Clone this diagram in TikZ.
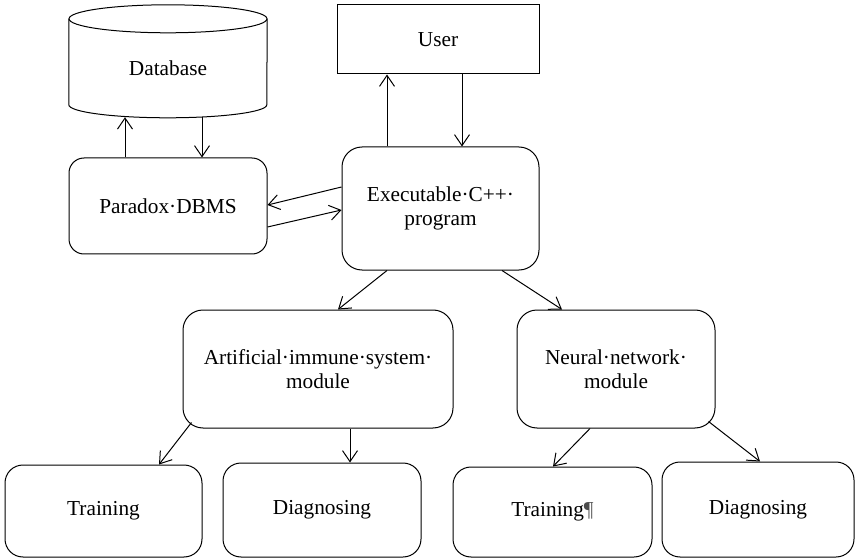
\documentclass[tikz,border=0pt]{standalone}
\usepackage{fontspec}
\setmainfont{Liberation Serif}
\usetikzlibrary{arrows.meta}
\begin{document}
\begin{tikzpicture}[x=1pt,y=-1pt,
  every node/.style={font=\fontsize{21.3}{24}\selectfont, align=center, inner sep=0pt},
  outline/.style={draw, line width=1pt},
  roundbox/.style={outline, rounded corners=#1},
  roundbox/.default=18pt,
  dims/.style 2 args={minimum width=#1pt, minimum height=#2pt},
  link/.style={line width=1pt, -{Straight Barb[length=11pt,width=15pt,line width=1pt]}}
]
\useasboundingbox (0,0) rectangle (855,559);

% database (the cylinder outline is drawn around this node)
\node[dims={198}{98}] (db) at (168,68) {Database};
\draw[line width=1pt] (db.north west) -- ([yshift=-86pt]db.north west)
  arc[start angle=180, end angle=360, x radius=99pt, y radius=13pt]
  -- (db.north east);
\draw[line width=1pt] (db.north) ellipse [x radius=99pt, y radius=14pt];

\node[roundbox=15pt, dims={198}{96}] (par) at (168,206) {Paradox·DBMS};
\node[outline, dims={202}{69}] (user) at (438,39.5) {User};
\node[roundbox=20pt, dims={197}{123}] (exe) at (440.5,208.5) {Executable·C++·\\program};
\node[roundbox=20pt, dims={270}{118}] (ais) at (318,369) {Artificial·immune·system·\\module};
\node[roundbox=20pt, dims={198}{118}] (nn) at (616,369) {Neural·network·\\module};
\node[roundbox, dims={197}{92}] (tr1) at (103.5,511) {Training};
\node[roundbox, dims={198}{94}] (dg1) at (322,510) {Diagnosing};
\node[roundbox, dims={199}{90}] (tr2) at (552.5,512) {Training{\color{black!70}¶}};
\node[roundbox, dims={192}{95}] (dg2) at (758,509.5) {Diagnosing};

% connectors
\draw[link] ([xshift=-43pt]par.north) -- ([xshift=-43pt]db.south);
\draw[link] ([xshift=34pt]db.south) -- ([xshift=34pt]par.north);

\draw[link] ([xshift=-53.5pt]exe.north) -- ([xshift=-51pt]user.south);
\draw[link] ([xshift=24pt]user.south) -- ([xshift=21.5pt]exe.north);

\draw[link] ([yshift=21.5pt]exe.west) -- ([yshift=1pt]par.east);
\draw[link] ([yshift=-21pt]par.east) -- ([yshift=-1.5pt]exe.west);

\draw[link] ([xshift=-53.5pt]exe.south) -- ([xshift=20pt]ais.north);
\draw[link] ([xshift=61.5pt]exe.south) -- ([xshift=-54pt]nn.north);

\draw[link] ([xshift=9pt,yshift=6pt]ais.south west) -- ([xshift=55.5pt]tr1.north);
\draw[link] ([xshift=32pt]ais.south) -- ([xshift=28pt]dg1.north);

\draw[link] ([xshift=-26pt]nn.south) -- ([xshift=0.5pt]tr2.north);
\draw[link] ([xshift=-7pt,yshift=7pt]nn.south east) -- ([xshift=2pt]dg2.north);
\end{tikzpicture}
\end{document}
